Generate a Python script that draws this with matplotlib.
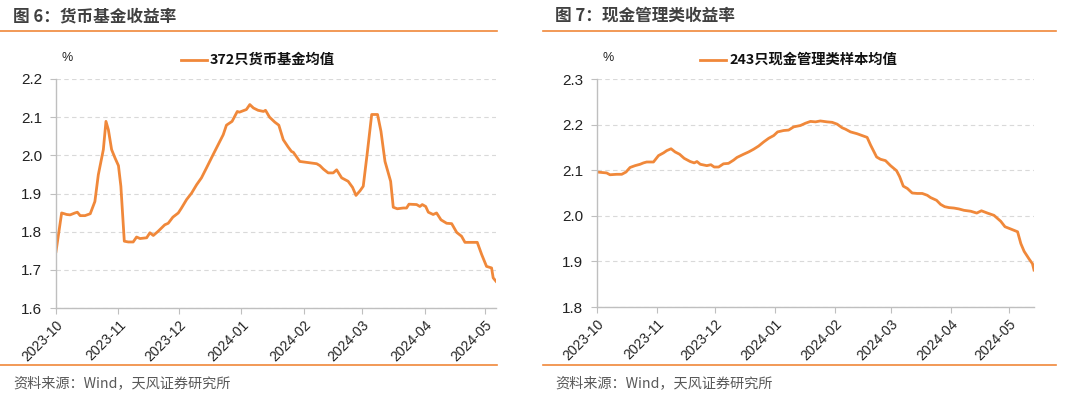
import numpy as np
import pandas as pd
import matplotlib
matplotlib.use("Agg")
import matplotlib.pyplot as plt
import matplotlib.dates as mdates
from matplotlib.lines import Line2D

plt.rcParams['font.family'] = ['Liberation Sans', 'Noto Sans CJK SC', 'DejaVu Sans']
CJK = ['Noto Sans CJK SC', 'DejaVu Sans']

# ---- data: days since 2023-10-01 and yield (%) ----
mmf_days = [0, 2.8, 4.1, 5.3, 7, 9.4, 10.6, 12, 14.4, 17, 19.3, 21, 23.5, 24.8, 26, 27.6, 29.3,
            31, 32.2, 33.9, 35.9, 38.3, 40, 41.7, 45, 46.6, 48.3, 50.7, 54, 55.7, 58, 60.7,
            62.3, 64.8, 67.3, 69.8, 72.2, 74.7, 78, 80.5, 83, 84.6, 87.4, 90, 91, 94.5, 96.2,
            98, 100.3, 103, 104, 106, 108.6, 110.6, 112.8, 115.2, 116.9, 117.8, 121,
            129.4, 131, 132.7, 135.1, 137.6, 139.3, 141.8, 145, 147.2, 148.9, 150.9, 152.5,
            154.5, 156.7, 159.6, 161.3, 163.3, 166.1, 167.4, 169.4, 172.4, 174, 175.2, 179,
            180.6, 181.8, 183.5, 184.8, 187.2, 188.9, 191.1, 193.9, 196.4, 198.9, 201.3, 203,
            209.1, 211.3, 213.7, 216.2, 217, 218.4]
mmf_vals = [1.748, 1.849, 1.847, 1.845, 1.844, 1.849, 1.851, 1.842, 1.842, 1.847, 1.879, 1.949,
            2.015, 2.089, 2.067, 2.015, 1.993, 1.973, 1.919, 1.775, 1.773, 1.773, 1.786, 1.782,
            1.784, 1.797, 1.790, 1.801, 1.818, 1.822, 1.838, 1.849, 1.862, 1.884, 1.901, 1.923,
            1.941, 1.967, 2.002, 2.028, 2.054, 2.079, 2.089, 2.115, 2.113, 2.120, 2.133, 2.124,
            2.118, 2.115, 2.118, 2.100, 2.087, 2.079, 2.041, 2.022, 2.010, 2.008, 1.984,
            1.978, 1.973, 1.964, 1.954, 1.954, 1.962, 1.941, 1.932, 1.916, 1.895, 1.907, 1.919,
            2.006, 2.107, 2.107, 2.063, 1.984, 1.932, 1.864, 1.860, 1.862, 1.862, 1.872, 1.871,
            1.866, 1.871, 1.866, 1.851, 1.845, 1.849, 1.831, 1.822, 1.821, 1.798, 1.788, 1.772,
            1.772, 1.740, 1.709, 1.705, 1.679, 1.670]

cash_days = [0, 5, 6.7, 10.2, 12.8, 15, 17.1, 19.7, 22.3, 24, 25.7, 29.2, 31.8, 34.4, 36.1,
             38.3, 40.4, 42.7, 45.1, 48.2, 50.3, 51.7, 53.4, 56.8, 58.9, 60.6, 62.9, 65.4, 68,
             70.6, 72.4, 75.8, 78.4, 81, 83.6, 86.2, 88.8, 91.4, 93.4, 96.5, 99.1, 101.7, 105.2,
             107.8, 110.4, 113, 115.5, 119, 121.6, 124.2, 126.8, 128.5, 131.1, 134.5, 137.1,
             139.7, 141.5, 144.6, 146.6, 149.2, 151.8, 154.9, 156.5, 158.4, 160.5, 163, 165.6,
             168.2, 170.8, 172.5, 175.6, 177.7, 179.8, 182, 184.6, 187.2, 189.8, 193.3, 196.4,
             198.8, 201.9, 205.3, 208.8, 211, 214, 217.5, 219.2, 220.9, 223.5, 225.2, 226]
cash_vals = [2.096, 2.094, 2.090, 2.091, 2.091, 2.096, 2.106, 2.110, 2.113, 2.116, 2.118, 2.118,
             2.132, 2.138, 2.143, 2.147, 2.140, 2.135, 2.126, 2.119, 2.116, 2.119, 2.113, 2.110,
             2.112, 2.107, 2.107, 2.114, 2.115, 2.122, 2.128, 2.135, 2.140, 2.146, 2.153, 2.162,
             2.170, 2.176, 2.184, 2.187, 2.188, 2.195, 2.198, 2.203, 2.207, 2.206, 2.208, 2.206,
             2.205, 2.201, 2.193, 2.190, 2.184, 2.180, 2.176, 2.172, 2.155, 2.129, 2.124, 2.121,
             2.110, 2.099, 2.086, 2.065, 2.060, 2.050, 2.049, 2.049, 2.045, 2.040, 2.034, 2.025,
             2.020, 2.018, 2.017, 2.015, 2.012, 2.010, 2.006, 2.011, 2.006, 2.001, 1.988, 1.976,
             1.971, 1.965, 1.939, 1.922, 1.905, 1.895, 1.881]

start = pd.Timestamp('2023-10-01')
mmf_dates = start + pd.to_timedelta(np.array(mmf_days), unit='D')
cash_dates = start + pd.to_timedelta(np.array(cash_days), unit='D')

titles = ['图 6：货币基金收益率', '图 7：现金管理类收益率']
legends = ['372只货币基金均值', '243只现金管理类样本均值']
source = '资料来源：Wind，天风证券研究所'

ORANGE = '#F0883A'
GRAY = '#BFBFBF'

W, H = 1080, 398
fig = plt.figure(figsize=(W / 100, H / 100), dpi=100)

def fx(px):
    return px / W

def fy(py):
    return 1 - py / H

panels = [
    dict(x0=56, x1=496, y0=79, y1=308, dates=mmf_dates, vals=mmf_vals, ylim=(1.6, 2.2),
         left=0, right=497, title_x=13, pct_x=62, leg_x=181),
    dict(x0=597, x1=1034, y0=79, y1=307, dates=cash_dates, vals=cash_vals, ylim=(1.8, 2.3),
         left=543, right=1056, title_x=555, pct_x=602, leg_x=700),
]

for i, p in enumerate(panels):
    ax = fig.add_axes([fx(p['x0']), fy(p['y1']), fx(p['x1'] - p['x0']), (p['y1'] - p['y0']) / H])
    ax.plot(p['dates'], p['vals'], color=ORANGE, lw=2.0, solid_joinstyle='round')
    ax.set_xlim(start, p['dates'][-1])
    ax.set_ylim(*p['ylim'])
    ax.set_yticks(np.arange(p['ylim'][0], p['ylim'][1] + 0.001, 0.1))
    ax.yaxis.set_major_formatter(matplotlib.ticker.FormatStrFormatter('%.1f'))
    ax.xaxis.set_major_locator(mdates.MonthLocator())
    ax.xaxis.set_major_formatter(mdates.DateFormatter('%Y-%m'))
    for lab in ax.get_xticklabels():
        lab.set_rotation(45)
        lab.set_ha('right')
        lab.set_rotation_mode('anchor')
    ax.tick_params(axis='x', length=4, color=GRAY, labelsize=10, pad=3, labelcolor='#222222')
    ax.tick_params(axis='y', length=4, color=GRAY, labelsize=11, pad=6, labelcolor='#222222')
    ax.grid(axis='y', color='#D9D9D9', ls=(0, (4, 3)), lw=0.8)
    for s in ['top', 'right']:
        ax.spines[s].set_visible(False)
    for s in ['left', 'bottom']:
        ax.spines[s].set_color(GRAY)
        ax.spines[s].set_linewidth(1.0)
    ax.set_axisbelow(True)

    # "%" unit label
    fig.text(fx(p['pct_x']), fy(58), '%', fontsize=9, color='#222222', va='center', ha='left')
    # legend
    fig.add_artist(Line2D([fx(p['leg_x']), fx(p['leg_x'] + 26)], [fy(60), fy(60)],
                          color=ORANGE, lw=2.0))
    fig.text(fx(p['leg_x'] + 29), fy(60), legends[i], fontsize=10.3, fontweight='bold',
             family=CJK, color='#111111', va='center', ha='left')

    # header and footer
    fig.text(fx(p['title_x']), fy(16), titles[i], fontsize=12, fontweight='bold',
             family=CJK, color='#404040', va='center', ha='left')
    fig.add_artist(Line2D([fx(p['left']), fx(p['right'])], [fy(31), fy(31)],
                          color=ORANGE, lw=1.2))
    fig.add_artist(Line2D([fx(p['left']), fx(p['right'])], [fy(365), fy(365)],
                          color=ORANGE, lw=1.2))
    fig.text(fx(p['title_x']), fy(383), source, fontsize=10.2, family=CJK,
             color='#595959', va='center', ha='left')

fig.savefig('out.png', dpi=100, facecolor='white')
